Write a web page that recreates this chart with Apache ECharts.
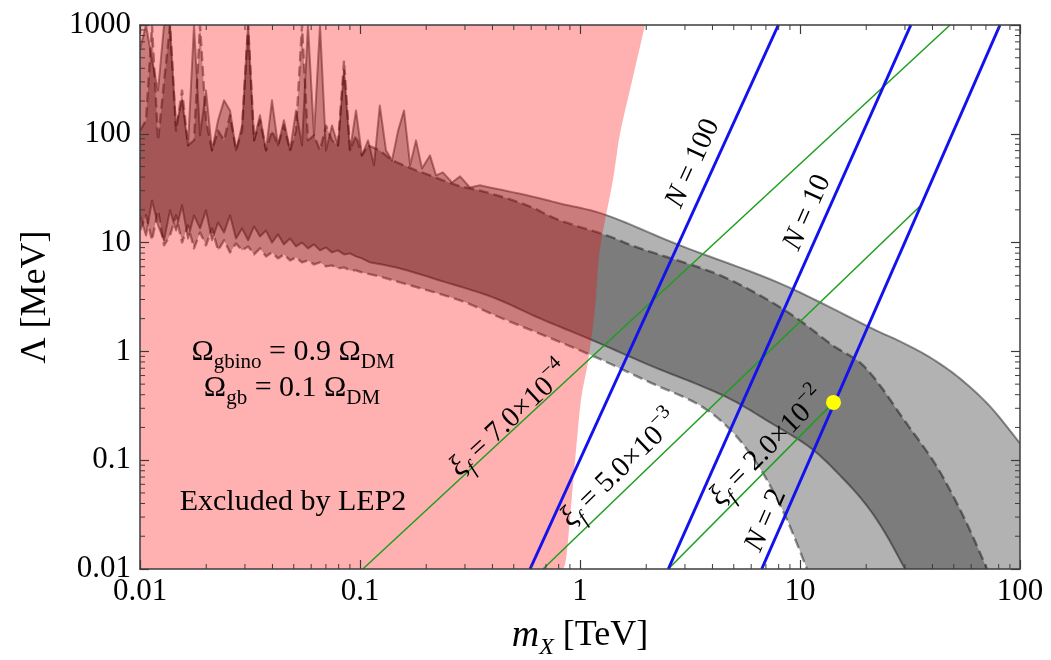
<!DOCTYPE html>
<html>
<head>
<meta charset="utf-8">
<script src="https://cdn.jsdelivr.net/npm/echarts@6/dist/echarts.min.js"></script>
<style>
  html, body { margin: 0; padding: 0; background: #ffffff; }
  #chart { width: 1051px; height: 660px; }
</style>
</head>
<body>
<div id="chart"></div>
<script>
const FONT = '"Liberation Serif", "Times New Roman", serif';

// ---- axes (log10 decades) ----
const xTicks = [0.01, 0.1, 1, 10, 100];
const yTicks = [0.01, 0.1, 1, 10, 100, 1000];

// ---- m_X grid of the noisy low-mass part of the scan ----
const mxNoisy = [0.01, 0.01065, 0.01134, 0.01208, 0.01286, 0.01369, 0.01458, 0.01553, 0.01653, 0.0176,
  0.01874, 0.01995, 0.02125, 0.02263, 0.0241, 0.02566, 0.02732, 0.0291, 0.031, 0.033,
  0.0351, 0.0374, 0.0398, 0.0424, 0.0451, 0.0481, 0.0512, 0.0545, 0.058, 0.0618,
  0.0658, 0.0701, 0.0746, 0.0794, 0.0846, 0.0901, 0.0959, 0.1021];

// ---- band A (solid edges): Lambda [MeV] ----
const bandATopNoisy = [600, 1000, 473, 250, 1000, 1000, 119, 203, 78.3, 1000,
  96.7, 250, 70.4, 133, 203, 164, 70.4, 119, 1000, 87,
  148, 70.4, 203, 78.3, 133, 70.4, 164, 78.3, 1000, 96.7,
  1000, 70.4, 119, 78.3, 383, 70.4, 164, 63.3];
const bandATopRough = [[0.1088, 87], [0.1158, 51.3], [0.123, 182], [0.1313, 70.4], [0.1398, 57],
  [0.149, 107], [0.1585, 164], [0.169, 51.3], [0.1797, 87], [0.1914, 48.1], [0.208, 63.3],
  [0.2216, 41.5], [0.238, 44.2], [0.262, 35.7], [0.285, 40.6], [0.316, 32.1]];
const bandATopSmooth = [[0.351, 33.6], [0.574, 27.2], [0.811, 22.9], [1.327, 17.8], [2.848, 9.43],
  [8.11, 4.22], [20.8, 1.66], [28.5, 1.236], [39.0, 0.881], [53.3, 0.565], [73.1, 0.312], [100, 0.143]];
const bandABottomNoisy = [17.8, 11.6, 24.4, 14.4, 10.5, 19.8, 12.9, 22.0, 10.9, 17.8,
  13.5, 19.8, 10.5, 15.3, 12.4, 17.8, 10.9, 13.5, 10.5, 14.1,
  11.4, 12.9, 10.0, 11.9, 9.63, 10.9, 9.23, 10.0, 8.85, 9.63,
  8.48, 9.03, 8.13, 8.48, 7.79, 7.96, 7.47, 7.16];
const bandABottomSmooth = [[0.111, 6.58], [0.152, 5.79], [0.238, 4.40], [0.402, 3.14], [0.658, 2.01],
  [1.146, 1.26], [2.08, 0.744], [3.51, 0.487], [4.95, 0.355], [7.31, 0.2226], [11.1, 0.131],
  [15.2, 0.0725], [19.75, 0.0401], [24.3, 0.0217], [30.0, 0.01]];

// ---- band B (dashed edges): Lambda [MeV] ----
const bandBTopNoisy = [107, 133, 1000, 87, 300, 1000, 107, 250, 78.3, 87,
  1000, 133, 70.4, 107, 87, 148, 70.4, 107, 1000, 87,
  133, 70.4, 107, 78.3, 119, 70.4, 107, 1000, 87, 96.7,
  70.4, 119, 87, 78.3, 473, 70.4, 96.7, 63.3];
const bandBTopRough = [[0.1088, 78.3], [0.123, 70.4], [0.1398, 57], [0.1585, 51.3], [0.1797, 46.1],
  [0.208, 41.5], [0.238, 37.3]];
const bandBTopSmooth = [[0.285, 32.9], [0.378, 28.9], [0.574, 22.0], [0.811, 16.0],
  [1.327, 11.6], [1.874, 8.85], [4.02, 5.32], [6.58, 3.27], [9.69, 2.01], [14.1, 1.135],
  [18.7, 0.792], [23.1, 0.487], [29.4, 0.242], [40.2, 0.0995], [49.5, 0.0475], [59.3, 0.0226],
  [70.8, 0.01]];
const bandBBottomNoisy = [12.9, 17.8, 10.5, 19.8, 9.43, 11.6, 17.8, 10.0, 14.4, 8.85,
  12.4, 9.43, 13.5, 8.48, 10.5, 8.13, 9.83, 8.48, 9.23, 7.79,
  8.85, 7.47, 8.13, 7.16, 7.79, 6.86, 7.31, 6.58, 6.86, 6.30,
  6.58, 6.04, 6.17, 5.79, 5.92, 5.55, 5.55, 5.32];
const bandBBottomSmooth = [[0.123, 4.89], [0.152, 4.31], [0.285, 2.94], [0.433, 2.05], [1.076, 0.959],
  [2.08, 0.519], [3.51, 0.319], [4.95, 0.18], [6.58, 0.0841], [8.55, 0.0311], [10.76, 0.01]];

// ---- LEP2 exclusion boundary [m_X, Lambda] ----
const lepEdge = [[0.84, 0.01], [0.873, 0.0148], [0.95, 0.1], [1.01, 0.355], [1.09, 0.83],
  [1.17, 2.5], [1.23, 8.48], [1.41, 37.3], [1.52, 100], [1.72, 300], [1.975, 1000]];

// ---- fixed-N lines ----
const lineN100 = [[0.593, 0.01], [7.97, 1000]];
const lineN10 = [[2.52, 0.01], [31.9, 1000]];
const lineN2 = [[6.70, 0.01], [81.1, 1000]];

// ---- fixed xi_f lines ----
const xiLine1 = [[0.103, 0.01], [48.1, 1000]];
const xiLine2 = [[0.679, 0.01], [35.0, 21.5]];
const xiLine3 = [[2.52, 0.01], [14.2, 0.34]];

// ---- benchmark point ----
const benchmark = [14.2, 0.34];

// ---- curve labels (anchor in data space, rotated along the curve) ----
const curveLabels = [
  { text: '{i|N} = 100', at: [3.26, 53.5], along: lineN100 },
  { text: '{i|N} = 10', at: [10.8, 18.9], along: lineN10 },
  { text: '{i|N} = 2', at: [7.0, 0.028], along: lineN2 },
  { text: '{g|ξ}{s|f} = 7.0×10{p|−4}', at: [0.48, 0.235], along: xiLine1 },
  { text: '{g|ξ}{s|f} = 5.0×10{p|−3}', at: [1.52, 0.082], along: xiLine2 },
  { text: '{g|ξ}{s|f} = 2.0×10{p|−2}', at: [7.15, 0.131], along: xiLine3 }
];
const notes = [
  { text: 'Ω{s|gbino} = 0.9 Ω{s|DM}', at: [0.0496, 0.98] },
  { text: 'Ω{s|gb} = 0.1 Ω{s|DM}', at: [0.0491, 0.457] },
  { text: 'Excluded by LEP2', at: [0.0496, 0.041] }
];

// ---- assemble band edges ----
const bandA = {
  topRough: mxNoisy.map((m, i) => [m, bandATopNoisy[i]]).concat(bandATopRough),
  topSmooth: bandATopSmooth,
  botRough: mxNoisy.map((m, i) => [m, bandABottomNoisy[i]]),
  botSmooth: bandABottomSmooth
};
const bandB = {
  topRough: mxNoisy.map((m, i) => [m, bandBTopNoisy[i]]).concat(bandBTopRough),
  topSmooth: bandBTopSmooth,
  botRough: mxNoisy.map((m, i) => [m, bandBBottomNoisy[i]]),
  botSmooth: bandBBottomSmooth
};

const xMin = xTicks[0], xMax = xTicks[xTicks.length - 1];
const yMin = yTicks[0], yMax = yTicks[yTicks.length - 1];

// minor ticks at 2..9 within every decade
function minorValues(ticks) {
  const out = [];
  for (let i = 0; i < ticks.length - 1; i++) {
    for (let k = 2; k <= 9; k++) out.push(+(ticks[i] * k).toPrecision(3));
  }
  return out;
}
const minorX = minorValues(xTicks);
const minorY = minorValues(yTicks);

// Catmull-Rom curve through screen points (drawing only)
function spline(pts, steps) {
  if (pts.length < 3) return pts.slice();
  const n = steps || 10;
  const out = [pts[0]];
  for (let i = 0; i < pts.length - 1; i++) {
    const p0 = pts[i - 1] || pts[i], p1 = pts[i], p2 = pts[i + 1], p3 = pts[i + 2] || pts[i + 1];
    for (let s = 1; s <= n; s++) {
      const t = s / n, t2 = t * t, t3 = t2 * t;
      const f = k => 0.5 * (2 * p1[k] + (-p0[k] + p2[k]) * t +
        (2 * p0[k] - 5 * p1[k] + 4 * p2[k] - p3[k]) * t2 +
        (-p0[k] + 3 * p1[k] - 3 * p2[k] + p3[k]) * t3);
      out.push([f(0), f(1)]);
    }
  }
  return out;
}

const BLUE = '#1212EE';
const GREEN = '#1E9E1E';
const AXIS = '#3c3c3c';

function bandRenderer(band, corner, dash) {
  return function (params, api) {
    const c = p => api.coord(p);
    const up = band.topRough.map(c).concat(spline(band.topSmooth.map(c)));
    const lo = band.botRough.map(c).concat(spline(band.botSmooth.map(c)));
    const ring = up.concat(corner.map(c), lo.slice().reverse());
    const edge = {
      fill: 'none', stroke: 'rgba(0,0,0,0.42)', lineWidth: dash ? 2.4 : 2,
      lineDash: dash ? [10, 5] : null, lineJoin: 'round'
    };
    return {
      type: 'group',
      children: [
        { type: 'polygon', shape: { points: ring }, style: { fill: 'rgba(0,0,0,0.30)', stroke: 'none' } },
        { type: 'polyline', shape: { points: up }, style: edge },
        { type: 'polyline', shape: { points: lo }, style: edge }
      ]
    };
  };
}

const richBase = {
  i: { fontFamily: FONT, fontStyle: 'italic', fontSize: 29, lineHeight: 42, fill: '#000' },
  g: { fontFamily: FONT, fontStyle: 'italic', fontSize: 30, lineHeight: 42, fill: '#000' },
  s: { fontFamily: FONT, fontStyle: 'italic', fontSize: 21, lineHeight: 21, verticalAlign: 'bottom', fill: '#000' },
  p: { fontFamily: FONT, fontSize: 20, lineHeight: 20, verticalAlign: 'top', fill: '#000' }
};
const richNote = {
  s: { fontFamily: FONT, fontSize: 21, lineHeight: 21, verticalAlign: 'bottom', fill: '#000' }
};

const axisCommon = {
  type: 'log',
  logBase: 10,
  gridIndex: 0,
  z: 10,
  axisLine: { show: true, lineStyle: { color: AXIS, width: 1.5 } },
  axisTick: { show: true, inside: true, length: 9, lineStyle: { color: AXIS, width: 1.2 } },
  minorTick: { show: false },
  splitLine: { show: false },
  axisPointer: { show: false }
};
const fmt = v => String(+Number(v).toPrecision(4));

const chart = echarts.init(document.getElementById('chart'), null, { renderer: 'canvas' });
chart.setOption({
  animation: false,
  backgroundColor: '#ffffff',
  grid: { left: 140, right: 31, top: 25, bottom: 91, outerBoundsMode: 'none', containLabel: false },
  xAxis: [
    Object.assign({}, axisCommon, {
      position: 'bottom', min: xMin, max: xMax,
      axisLabel: { show: true, margin: 7, fontFamily: FONT, fontSize: 31, color: '#000',
        formatter: fmt, showMinLabel: true, showMaxLabel: true },
      name: '{m|m}{s|X} [TeV]',
      nameLocation: 'middle',
      nameGap: 43,
      nameMoveOverlap: false,
      nameTextStyle: {
        fontFamily: FONT, fontSize: 36, color: '#000', lineHeight: 48,
        rich: {
          m: { fontFamily: FONT, fontStyle: 'italic', fontSize: 38, lineHeight: 48, color: '#000' },
          s: { fontFamily: FONT, fontStyle: 'italic', fontSize: 24, lineHeight: 24, verticalAlign: 'bottom', color: '#000' }
        }
      }
    }),
    Object.assign({}, axisCommon, {
      position: 'top', min: xMin, max: xMax, axisLabel: { show: false }
    })
  ],
  yAxis: [
    Object.assign({}, axisCommon, {
      position: 'left', min: yMin, max: yMax,
      axisLabel: { show: true, margin: 9, fontFamily: FONT, fontSize: 31, color: '#000',
        formatter: fmt, showMinLabel: true, showMaxLabel: true },
      name: 'Λ [MeV]',
      nameLocation: 'middle',
      nameRotate: 90,
      nameGap: 86,
      nameMoveOverlap: false,
      nameTextStyle: { fontFamily: FONT, fontSize: 36, color: '#000' }
    }),
    Object.assign({}, axisCommon, {
      position: 'right', min: yMin, max: yMax, axisLabel: { show: false }
    })
  ],
  series: [
    // band A (solid edges)
    {
      type: 'custom', xAxisIndex: 0, yAxisIndex: 0, z: 1, silent: true, clip: true,
      data: [[1, 1]],
      renderItem: bandRenderer(bandA, [[xMax, yMin]], false)
    },
    // band B (dashed edges)
    {
      type: 'custom', xAxisIndex: 0, yAxisIndex: 0, z: 1, silent: true, clip: true,
      data: [[1, 1]],
      renderItem: bandRenderer(bandB, [], true)
    },
    // LEP2 excluded region
    {
      type: 'custom', xAxisIndex: 0, yAxisIndex: 0, z: 2, silent: true, clip: true,
      data: [[1, 1]],
      renderItem: function (params, api) {
        const c = p => api.coord(p);
        const pts = [c([xMin, yMin])].concat(spline(lepEdge.map(c)), [c([xMin, yMax])]);
        return { type: 'polygon', shape: { points: pts }, style: { fill: 'rgba(255,0,0,0.31)', stroke: 'none' } };
      }
    },
    // fixed xi_f lines
    ...[xiLine1, xiLine2, xiLine3].map(d => ({
      type: 'line', data: d, showSymbol: false, silent: true, clip: true, z: 3,
      lineStyle: { color: GREEN, width: 1.5 }
    })),
    // fixed N lines
    ...[lineN100, lineN10, lineN2].map(d => ({
      type: 'line', data: d, showSymbol: false, silent: true, clip: true, z: 4,
      lineStyle: { color: BLUE, width: 3 }
    })),
    // benchmark point
    {
      type: 'scatter', data: [benchmark], symbol: 'circle', symbolSize: 15, silent: true, z: 6,
      itemStyle: { color: '#FFFF00', borderWidth: 0, opacity: 1 }
    },
    // curve labels
    {
      type: 'custom', z: 7, silent: true, clip: false,
      data: curveLabels.map(L => L.at),
      renderItem: function (params, api) {
        const L = curveLabels[params.dataIndex];
        const c = api.coord(L.at);
        const a = api.coord(L.along[0]);
        const b = api.coord(L.along[L.along.length - 1]);
        const ang = Math.atan2(a[1] - b[1], b[0] - a[0]);
        return {
          type: 'text', x: c[0], y: c[1], rotation: ang,
          style: {
            text: L.text, x: 0, y: 0, align: 'center', verticalAlign: 'middle',
            fontFamily: FONT, fontSize: 29, lineHeight: 42, fill: '#000', rich: richBase
          }
        };
      }
    },
    // annotations
    {
      type: 'custom', z: 7, silent: true, clip: false,
      data: notes.map(n => n.at),
      renderItem: function (params, api) {
        const n = notes[params.dataIndex];
        const c = api.coord(n.at);
        return {
          type: 'text', x: c[0], y: c[1],
          style: {
            text: n.text, x: 0, y: 0, align: 'center', verticalAlign: 'middle',
            fontFamily: FONT, fontSize: 30, lineHeight: 42, fill: '#000', rich: richNote
          }
        };
      }
    },
    // minor ticks, x (bottom and top)
    {
      type: 'custom', z: 9, silent: true, clip: false,
      data: minorX.map(v => [v, 1]),
      renderItem: function (params, api) {
        const v = api.value(0);
        const b = api.coord([v, yMin]);
        const t = api.coord([v, yMax]);
        const st = { stroke: AXIS, lineWidth: 1 };
        return { type: 'group', children: [
          { type: 'line', shape: { x1: b[0], y1: b[1], x2: b[0], y2: b[1] - 5 }, style: st },
          { type: 'line', shape: { x1: t[0], y1: t[1], x2: t[0], y2: t[1] + 5 }, style: st }
        ] };
      }
    },
    // minor ticks, y (left and right)
    {
      type: 'custom', z: 9, silent: true, clip: false,
      data: minorY.map(v => [1, v]),
      renderItem: function (params, api) {
        const v = api.value(1);
        const l = api.coord([xMin, v]);
        const r = api.coord([xMax, v]);
        const st = { stroke: AXIS, lineWidth: 1 };
        return { type: 'group', children: [
          { type: 'line', shape: { x1: l[0], y1: l[1], x2: l[0] + 5, y2: l[1] }, style: st },
          { type: 'line', shape: { x1: r[0], y1: r[1], x2: r[0] - 5, y2: r[1] }, style: st }
        ] };
      }
    }
  ]
});
</script>
</body>
</html>
